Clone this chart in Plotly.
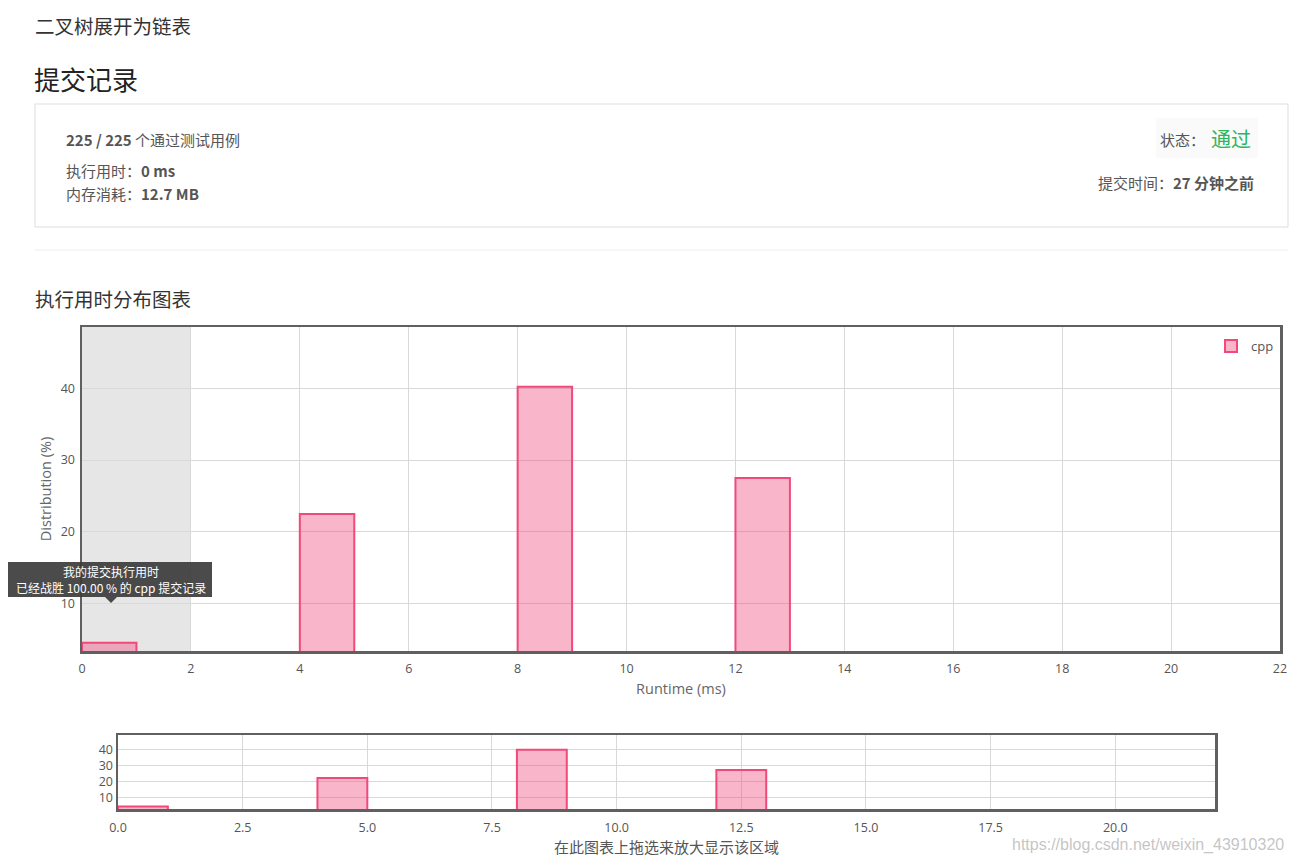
import plotly.graph_objects as go

# ---- data ----
runtime_bins = [0, 4, 8, 12]          # ms (bin starts)
distribution = [4.6, 22.5, 40.2, 27.5]  # %
bin_width = 1
series_name = "cpp"
x_ticks_main = [0, 2, 4, 6, 8, 10, 12, 14, 16, 18, 20, 22]
y_ticks = [10, 20, 30, 40]
x_ticks_nav = [0.0, 2.5, 5.0, 7.5, 10.0, 12.5, 15.0, 17.5, 20.0]
my_runtime_range = [0, 2]

W, H = 1294, 864
def px(x): return x / W
def py(y): return 1 - y / H

FONT = "Open Sans, Noto Sans CJK SC, sans-serif"
CJK = "Noto Sans CJK SC, Open Sans, sans-serif"
PINK = "#f0497a"
FILL = "rgba(240,73,122,0.4)"

centers = [b + bin_width / 2 for b in runtime_bins]

fig = go.Figure()
fig.add_trace(go.Bar(x=centers, y=distribution, width=bin_width, name=series_name,
                     marker=dict(color=FILL, line=dict(color=PINK, width=2)),
                     xaxis="x", yaxis="y", showlegend=True, hoverinfo="skip"))
fig.add_trace(go.Bar(x=centers, y=distribution, width=bin_width, name=series_name,
                     marker=dict(color=FILL, line=dict(color=PINK, width=2)),
                     xaxis="x2", yaxis="y2", showlegend=False, hoverinfo="skip"))

axis_common = dict(showline=True, mirror=True, linecolor="#606060", linewidth=2.5,
                   showgrid=True, gridcolor="#d9d9d9", gridwidth=1, zeroline=False,
                   ticks="", automargin=False,
                   tickfont=dict(family=FONT, size=12.5, color="#555"))

fig.update_layout(
    width=W, height=H, margin=dict(l=0, r=0, t=0, b=0, pad=0),
    paper_bgcolor="white", plot_bgcolor="white",
    barmode="overlay", hovermode=False,
    font=dict(family=FONT, color="#555"),
    xaxis=dict(domain=[px(82), px(1280)], range=[0, 22], tickvals=x_ticks_main,
               ticklabelstandoff=4,
               title=dict(text="Runtime (ms)", font=dict(size=14.5, color="#666"), standoff=9),
               anchor="y", **axis_common),
    yaxis=dict(domain=[py(651), py(327)], range=[3.45, 48.5], tickvals=y_ticks,
               ticklabelstandoff=2,
               title=dict(text="Distribution (%)", font=dict(size=14.5, color="#666"), standoff=6),
               anchor="x", **axis_common),
    xaxis2=dict(domain=[px(118), px(1215)], range=[0, 22], tickvals=x_ticks_nav,
                tickformat=".1f", anchor="y2", ticklabelstandoff=5,
                title=dict(text="在此图表上拖选来放大显示该区域", font=dict(family=CJK, size=15, color="#555"), standoff=4),
                **axis_common),
    yaxis2=dict(domain=[py(809), py(735)], range=[3.0, 49.4], tickvals=y_ticks, anchor="x2",
                **axis_common),
    legend=dict(x=px(1279), y=py(331), xanchor="right", yanchor="top",
                bgcolor="rgba(0,0,0,0)", font=dict(family=FONT, size=13, color="#555"),
                itemwidth=30, tracegroupgap=0),
)

shapes = []
shapes.append(dict(type="rect", xref="x", yref="paper", x0=my_runtime_range[0], x1=my_runtime_range[1],
                   y0=py(651), y1=py(327), fillcolor="#e6e6e6", line=dict(width=0), layer="below"))
shapes.append(dict(type="rect", xref="paper", yref="paper", x0=px(35), x1=px(1288), y0=py(227), y1=py(104),
                   line=dict(color="#dddddd", width=1), fillcolor="rgba(0,0,0,0)"))
shapes.append(dict(type="rect", xref="paper", yref="paper", x0=px(1156), x1=px(1258), y0=py(158), y1=py(118),
                   line=dict(width=0), fillcolor="#fafafa", layer="below"))
shapes.append(dict(type="line", xref="paper", yref="paper", x0=px(35), x1=px(1288), y0=py(250), y1=py(250),
                   line=dict(color="#eeeeee", width=1)))
shapes.append(dict(type="rect", xref="paper", yref="paper", x0=px(8), x1=px(212), y0=py(597), y1=py(562),
                   fillcolor="rgba(60,60,60,0.92)", line=dict(width=0)))
shapes.append(dict(type="path", xref="paper", yref="paper",
                   path=f"M {px(105)},{py(597)} L {px(117)},{py(597)} L {px(111)},{py(603)} Z",
                   fillcolor="rgba(60,60,60,0.92)", line=dict(width=0)))
fig.update_layout(shapes=shapes)

ann = []
def text(x, y, t, size, color="#555", family=CJK, xanchor="left"):
    ann.append(dict(xref="paper", yref="paper", x=px(x), y=py(y), text=t, showarrow=False,
                    xanchor=xanchor, yanchor="middle", font=dict(family=family, size=size, color=color)))

text(33, 25, "二叉树展开为链表", 19.5, "#333")
text(32, 78, "提交记录", 26, "#222")
text(64, 139, "<b>225 / 225</b> 个通过测试用例", 15, "#555")
text(64, 171, "执行用时：<b>0 ms</b>", 15, "#555")
text(64, 194, "内存消耗：<b>12.7 MB</b>", 15, "#555")
text(1207, 140, "状态：", 15, "#555", xanchor="right")
text(1253, 138, "通过", 20, "#2db55d", xanchor="right")
text(1256, 182, "提交时间：<b>27 分钟之前</b>", 15, "#555", xanchor="right")
text(33, 298, "执行用时分布图表", 19.5, "#333")
ann.append(dict(xref="paper", yref="paper", x=px(111), y=py(579.5),
                text="我的提交执行用时<br>已经战胜 100.00 % 的 cpp 提交记录", showarrow=False,
                xanchor="center", yanchor="middle", align="center",
                font=dict(family=CJK, size=12, color="white")))
text(1286, 845, "https://blog.csdn.net/weixin_43910320", 16, "rgba(190,190,190,0.9)",
     family="Liberation Sans, Arial, sans-serif", xanchor="right")
fig.update_layout(annotations=ann)

fig.write_html("out.html", config={"displayModeBar": False, "staticPlot": True},
               post_script="document.body.style.margin='0';document.body.style.overflow='hidden';")
